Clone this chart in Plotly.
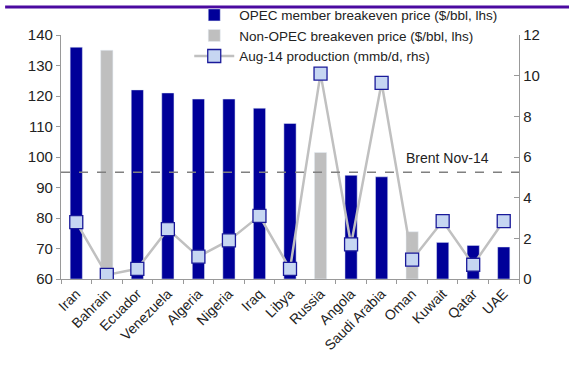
import plotly.graph_objects as go

countries = ["Iran", "Bahrain", "Ecuador", "Venezuela", "Algeria", "Nigeria", "Iraq", "Libya",
             "Russia", "Angola", "Saudi Arabia", "Oman", "Kuwait", "Qatar", "UAE"]
opec_price = [136, None, 122, 121, 119, 119, 116, 111, None, 94, 93.5, None, 72, 71, 70.5]
nonopec_price = [None, 135, None, None, None, None, None, None, 101.5, None, None, 75.5, None, None, None]
production = [2.8, 0.2, 0.5, 2.45, 1.1, 1.9, 3.1, 0.5, 10.1, 1.7, 9.65, 0.95, 2.85, 0.7, 2.85]
brent = 95

fig = go.Figure()
fig.add_trace(go.Bar(x=countries, y=[(v - 60) if v is not None else None for v in opec_price], base=60,
                     name="OPEC member breakeven price ($/bbl, lhs)", marker_color="#000099",
                     width=0.4, yaxis="y"))
fig.add_trace(go.Bar(x=countries, y=[(v - 60) if v is not None else None for v in nonopec_price], base=60,
                     name="Non-OPEC breakeven price ($/bbl, lhs)", marker_color="#bfbfbf",
                     width=0.4, yaxis="y"))
fig.add_trace(go.Scatter(x=countries, y=production, name="Aug-14 production (mmb/d, rhs)",
                         mode="lines+markers", yaxis="y2",
                         line=dict(color="#c0c0c0", width=2.5),
                         marker=dict(symbol="square", size=13, color="#c6d6f2",
                                     line=dict(color="#1a1a9a", width=1.3))))

fig.add_shape(type="line", xref="paper", yref="y", x0=0, x1=1, y0=brent, y1=brent,
              line=dict(color="#808080", width=1.3, dash="dash"))
fig.add_annotation(text="Brent Nov-14", xref="x", yref="y", x=12.15, y=brent, yshift=14,
                   showarrow=False, font=dict(size=14, color="#222"))
fig.add_shape(type="line", xref="paper", yref="paper", x0=-0.122, x1=1.11, y0=1.115, y1=1.115,
              line=dict(color="#4b0aa0", width=3))

fig.update_layout(
    width=569, height=367,
    margin=dict(l=61, r=50, t=35, b=88, autoexpand=False),
    paper_bgcolor="white", plot_bgcolor="white",
    font=dict(family="Liberation Sans, Arial, sans-serif", size=14, color="#222"),
    barmode="overlay",
    showlegend=True,
    legend=dict(x=0.28, y=1.145, xanchor="left", yanchor="top", bgcolor="rgba(0,0,0,0)",
                font=dict(size=13.5), tracegroupgap=0, itemwidth=40),
    xaxis=dict(type="category", range=[-0.5, 14.5], showline=True, linecolor="#999", linewidth=1.3,
               ticks="outside", tickson="boundaries", ticklen=4, tickcolor="#999",
               tickangle=-45, tickfont=dict(size=14), showgrid=False, automargin=False),
    yaxis=dict(range=[60, 140], dtick=10, showline=True, linecolor="#999", linewidth=1.3,
               ticks="outside", ticklen=4, tickcolor="#999", showgrid=False, zeroline=False,
               tickfont=dict(size=15), automargin=False),
    yaxis2=dict(range=[0, 12], dtick=2, overlaying="y", side="right", showline=True,
                linecolor="#999", linewidth=1.3, ticks="inside", ticklen=5, tickcolor="#999",
                showgrid=False, zeroline=False, tickfont=dict(size=15), automargin=False),
)

fig.write_html("out.html")
